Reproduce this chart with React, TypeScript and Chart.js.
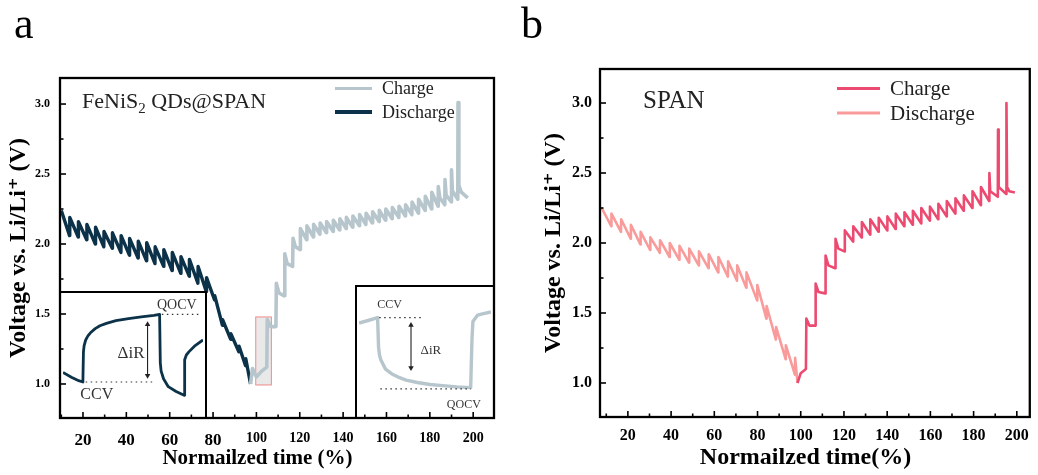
import React, { useEffect, useRef } from 'react';
import { Chart, registerables } from 'chart.js';

Chart.register(...registerables);

type P = [number, number];

const FONT = "'Liberation Serif', 'Times New Roman', 'DejaVu Serif', serif";

// ---------- axis ticks ----------
const xTicks = [20, 40, 60, 80, 100, 120, 140, 160, 180, 200];
const xMinorTicks = [10, 30, 50, 70, 90, 110, 130, 150, 170, 190];
const yTicks = [1.0, 1.5, 2.0, 2.5, 3.0];
const yMinorTicks = [1.25, 1.75, 2.25, 2.75];

// ---------- panel a : FeNiS2 QDs@SPAN ----------
const dischargeA: P[] = [
  [10.0, 2.24], [13.8, 2.06],
  [13.9, 2.19], [17.8, 2.05],
  [17.9, 2.16], [21.7, 2.03],
  [21.8, 2.14], [25.7, 2.0],
  [25.8, 2.12], [29.6, 1.98],
  [29.7, 2.09], [33.5, 1.97],
  [33.6, 2.08], [37.5, 1.94],
  [37.6, 2.06], [41.4, 1.92],
  [41.5, 2.04], [45.4, 1.9],
  [45.5, 2.02], [49.3, 1.88],
  [49.4, 2.01], [53.2, 1.86],
  [53.3, 1.98], [57.2, 1.84],
  [57.3, 1.96], [61.1, 1.81],
  [61.2, 1.94], [65.1, 1.79],
  [65.2, 1.91], [69.0, 1.77],
  [69.1, 1.89], [73.0, 1.72],
  [73.1, 1.84], [76.9, 1.66],
  [77.0, 1.76], [80.7, 1.6],
  [80.8, 1.63], [84.3, 1.42],
  [84.4, 1.46], [88.1, 1.32],
  [88.2, 1.36], [91.9, 1.23],
  [92.0, 1.27], [95.0, 1.13],
  [95.1, 1.18], [97.3, 1.0],
];

const chargeA: P[] = [
  [97.3, 1.0], [98.2, 1.11], [100.0, 1.05], [102.3, 1.09], [104.8, 1.12],
  [105.0, 1.46], [106.5, 1.41], [109.0, 1.41],
  [109.2, 1.72], [110.4, 1.65], [112.8, 1.63],
  [113.1, 1.93], [114.2, 1.86], [116.7, 1.84],
  [116.9, 2.04], [118.0, 1.98], [120.2, 1.96],
  [120.3, 2.11], [123.2, 2.03],
  [123.3, 2.13], [126.3, 2.05],
  [126.4, 2.14], [129.3, 2.07],
  [129.4, 2.15], [132.3, 2.08],
  [132.4, 2.16], [135.4, 2.09],
  [135.5, 2.17], [138.4, 2.1],
  [138.5, 2.18], [141.4, 2.11],
  [141.5, 2.19], [144.4, 2.12],
  [144.5, 2.2], [147.5, 2.13],
  [147.6, 2.21], [150.5, 2.14],
  [150.6, 2.22], [153.5, 2.15],
  [153.6, 2.23], [156.6, 2.16],
  [156.7, 2.24], [159.6, 2.17],
  [159.7, 2.25], [162.6, 2.18],
  [162.7, 2.26], [165.7, 2.19],
  [165.8, 2.27], [168.7, 2.2],
  [168.8, 2.28], [171.7, 2.21],
  [171.8, 2.3], [174.7, 2.22],
  [174.8, 2.32], [177.8, 2.24],
  [177.9, 2.34], [180.8, 2.25],
  [180.9, 2.37], [183.8, 2.27],
  [183.9, 2.41], [184.6, 2.33], [186.9, 2.28],
  [187.0, 2.46], [187.5, 2.35], [189.9, 2.3],
  [190.0, 2.53], [190.4, 2.38], [192.9, 2.32],
  [193.0, 3.01], [193.4, 2.42], [194.5, 2.37], [197.5, 2.33],
];

// ---------- panel b : SPAN ----------
const dischargeB: P[] = [
  [7.9, 2.25], [12.3, 2.12],
  [12.4, 2.21], [16.8, 2.08],
  [16.9, 2.17], [21.3, 2.03],
  [21.4, 2.13], [25.8, 1.99],
  [25.9, 2.08], [30.3, 1.95],
  [30.4, 2.04], [34.8, 1.93],
  [34.9, 2.02], [39.3, 1.9],
  [39.4, 2.0], [43.8, 1.88],
  [43.9, 1.98], [48.3, 1.86],
  [48.4, 1.96], [52.8, 1.84],
  [52.9, 1.94], [57.3, 1.82],
  [57.4, 1.92], [61.8, 1.79],
  [61.9, 1.9], [66.3, 1.76],
  [66.4, 1.87], [70.5, 1.73],
  [70.6, 1.84], [74.8, 1.68],
  [74.9, 1.79], [79.8, 1.59],
  [79.9, 1.7], [84.1, 1.46],
  [84.2, 1.55], [88.5, 1.31],
  [88.6, 1.4], [93.0, 1.17],
  [93.1, 1.27], [97.3, 1.06],
  [97.4, 1.18], [98.5, 1.0],
];

const chargeB: P[] = [
  [98.5, 1.0], [100.0, 1.07], [102.4, 1.1],
  [102.6, 1.46], [104.0, 1.41], [106.7, 1.41],
  [106.9, 1.71], [108.2, 1.65], [111.3, 1.64],
  [111.5, 1.91], [112.8, 1.84], [115.9, 1.82],
  [116.1, 2.03], [117.4, 1.96], [120.2, 1.94],
  [120.4, 2.09], [124.2, 2.01],
  [124.3, 2.12], [128.2, 2.04],
  [128.3, 2.15], [132.1, 2.06],
  [132.2, 2.17], [136.0, 2.08],
  [136.1, 2.18], [140.0, 2.09],
  [140.1, 2.19], [143.9, 2.1],
  [144.0, 2.21], [147.9, 2.12],
  [148.0, 2.22], [151.8, 2.13],
  [151.9, 2.23], [155.7, 2.14],
  [155.8, 2.25], [159.7, 2.16],
  [159.8, 2.26], [163.6, 2.17],
  [163.7, 2.28], [167.5, 2.19],
  [167.6, 2.3], [171.5, 2.21],
  [171.6, 2.32], [175.4, 2.23],
  [175.5, 2.34], [179.4, 2.25],
  [179.5, 2.37], [183.3, 2.27],
  [183.4, 2.4], [187.2, 2.3],
  [187.3, 2.5], [187.7, 2.37], [191.2, 2.33],
  [191.3, 2.81], [191.6, 2.4], [195.1, 2.35],
  [195.2, 3.0], [195.5, 2.4], [196.5, 2.37], [199.1, 2.36],
];

// ---------- insets (local 0..100 units) ----------
const insetLeftCurve: P[] = [
  [0, 35.5], [6.0, 31.5], [11.2, 28.6], [14.2, 27.5],
  [14.6, 52.6], [15.1, 57.9], [16.2, 62.5], [17.8, 65.9], [19.6, 68.5], [23.0, 72.0],
  [26.4, 74.4], [31.0, 76.4], [37.8, 78.6], [46.8, 80.4], [55.9, 81.7], [65.0, 83.1], [69.0, 83.9],
  [69.5, 43.4], [70.1, 36.5], [71.8, 30.2], [75.2, 23.6], [80.8, 19.6], [86.5, 16.4],
  [86.9, 46.0], [88.1, 50.0], [89.9, 52.6], [94.4, 57.9], [100, 62.5],
];
const insetLeftQocvLine: P[] = [[70.6, 83.9], [96.7, 83.9]];
const insetLeftCcvLine: P[] = [[16.2, 27.5], [65.0, 27.5]];
const insetLeftArrow: P[] = [[60.4, 75.5], [60.4, 32.8]];

const insetRightCurve: P[] = [
  [0, 73.0], [6.9, 75.0], [14.1, 77.3],
  [14.8, 54.0], [15.5, 47.7], [16.5, 43.9], [20.1, 36.4], [24.9, 32.6], [29.7, 30.1],
  [35.7, 27.7], [44.2, 25.8], [53.8, 24.2], [63.4, 23.3], [74.0, 22.3], [84.6, 21.7],
  [85.6, 60.4], [86.3, 74.2], [89.9, 79.3], [93.5, 80.3], [100, 81.8],
];
const insetRightCcvLine: P[] = [[15.3, 77.3], [47.8, 77.3]];
const insetRightQocvLine: P[] = [[16.2, 20.7], [84.8, 20.7]];
const insetRightArrow: P[] = [[39.4, 71.3], [39.4, 37.5]];

// ---------- colours ----------
const A_CHARGE = '#b7c6cd';
const A_DISCHARGE = '#0c3249';
const B_CHARGE = '#ec4a70';
const B_DISCHARGE = '#f99b9b';

type Series = { data: P[]; color: string; width: number };

type MainCfg = {
  series: Series[];
  xMin: number; xMax: number; yMin: number; yMax: number;
  padTop: number; padRight: number; yAxisWidth: number; xAxisHeight: number;
  yTickSize: number; xTickSize: (v: number) => number; yTickPad: number; xTickPad: number;
  yTitleSize: number; yTitlePad: number;
  xTitle: string; xTitleSize: number; xTitleX: number; xTitleY: number;
  under?: (chart: any) => void;
  over?: (chart: any) => void;
};

function framePlugin() {
  return {
    id: 'frameTicks',
    afterDraw(chart: any) {
      const { ctx, chartArea } = chart;
      const { left, right, top, bottom } = chartArea;
      const x = chart.scales.x;
      const y = chart.scales.y;
      ctx.save();
      ctx.strokeStyle = '#000';
      ctx.lineWidth = 1.6;
      const tick = (x0: number, y0: number, x1: number, y1: number) => {
        ctx.beginPath();
        ctx.moveTo(x0, y0);
        ctx.lineTo(x1, y1);
        ctx.stroke();
      };
      xTicks.forEach((v) => { const p = x.getPixelForValue(v); tick(p, bottom, p, bottom - 6); });
      xMinorTicks.forEach((v) => { const p = x.getPixelForValue(v); tick(p, bottom, p, bottom - 3.5); });
      yTicks.forEach((v) => { const p = y.getPixelForValue(v); tick(left, p, left + 6, p); });
      yMinorTicks.forEach((v) => { const p = y.getPixelForValue(v); tick(left, p, left + 3.5, p); });
      ctx.lineWidth = 2.3;
      ctx.strokeRect(left, top, right - left, bottom - top);
      ctx.restore();
    },
  };
}

function mainConfig(cfg: MainCfg): any {
  return {
    type: 'line',
    data: {
      datasets: cfg.series.map((s) => ({
        data: s.data,
        borderColor: s.color,
        borderWidth: s.width,
        pointRadius: 0,
        tension: 0,
        borderJoinStyle: 'round',
        fill: false,
      })),
    },
    options: {
      responsive: false,
      animation: false,
      events: [],
      layout: { padding: { left: 0, top: cfg.padTop, right: cfg.padRight, bottom: 0 } },
      plugins: { legend: { display: false }, tooltip: { enabled: false } },
      scales: {
        x: {
          type: 'linear',
          min: cfg.xMin,
          max: cfg.xMax,
          grid: { display: false, drawTicks: false },
          border: { display: false },
          afterFit: (s: any) => { s.height = cfg.xAxisHeight; },
          afterBuildTicks: (s: any) => { s.ticks = xTicks.map((v) => ({ value: v })); },
          ticks: {
            autoSkip: false,
            maxRotation: 0,
            padding: cfg.xTickPad,
            color: '#000',
            callback: (v: any) => String(v),
            font: (ctx: any) => ({
              family: FONT,
              weight: 'bold',
              size: cfg.xTickSize(ctx.tick ? ctx.tick.value : 0),
            }),
          },
          title: { display: false },
        },
        y: {
          type: 'linear',
          min: cfg.yMin,
          max: cfg.yMax,
          grid: { display: false, drawTicks: false },
          border: { display: false },
          afterFit: (s: any) => { s.width = cfg.yAxisWidth; },
          afterBuildTicks: (s: any) => { s.ticks = yTicks.map((v) => ({ value: v })); },
          ticks: {
            autoSkip: false,
            padding: cfg.yTickPad,
            color: '#000',
            callback: (v: any) => Number(v).toFixed(1),
            font: { family: FONT, weight: 'bold', size: cfg.yTickSize },
          },
          title: {
            display: true,
            text: 'Voltage vs. Li/Li\u207A (V)',
            color: '#000',
            font: { family: FONT, weight: 'bold', size: cfg.yTitleSize },
            padding: { top: cfg.yTitlePad, bottom: 0 },
          },
        },
      },
    },
    plugins: [
      {
        id: 'under',
        beforeDatasetsDraw(chart: any) { if (cfg.under) cfg.under(chart); },
      },
      framePlugin(),
      {
        id: 'over',
        afterDraw(chart: any) {
          const { ctx } = chart;
          ctx.save();
          ctx.fillStyle = '#000';
          ctx.font = `bold ${cfg.xTitleSize}px ${FONT}`;
          ctx.textAlign = 'center';
          ctx.textBaseline = 'middle';
          ctx.fillText(cfg.xTitle, cfg.xTitleX, cfg.xTitleY);
          ctx.restore();
          if (cfg.over) cfg.over(chart);
        },
      },
    ],
  };
}

function drawLegend(ctx: any, items: { label: string; color: string; width: number; y: number }[], x0: number, x1: number, tx: number, size: number) {
  ctx.save();
  items.forEach((it) => {
    ctx.strokeStyle = it.color;
    ctx.lineWidth = it.width;
    ctx.lineCap = 'butt';
    ctx.beginPath();
    ctx.moveTo(x0, it.y);
    ctx.lineTo(x1, it.y);
    ctx.stroke();
    ctx.fillStyle = '#222';
    ctx.font = `${size}px ${FONT}`;
    ctx.textBaseline = 'middle';
    ctx.textAlign = 'left';
    ctx.fillText(it.label, tx, it.y + 1);
  });
  ctx.restore();
}

const zoomBoxA = { x0: 99.7, x1: 106.9, y0: 0.993, y1: 1.479 };

const cfgA: MainCfg = {
  series: [
    { data: chargeA, color: A_CHARGE, width: 3.6 },
    { data: dischargeA, color: A_DISCHARGE, width: 3.4 },
  ],
  xMin: 9.4, xMax: 209.6, yMin: 0.757, yMax: 3.186,
  padTop: 78, padRight: 25, yAxisWidth: 60, xAxisHeight: 57,
  yTickSize: 12, xTickSize: (v) => (v >= 100 ? 14 : 17), yTickPad: 10, xTickPad: 12,
  yTitleSize: 24, yTitlePad: 4,
  xTitle: 'Normailzed time (%)', xTitleSize: 21, xTitleX: 257.5, xTitleY: 459,
  under: (chart) => {
    const { ctx, scales: { x, y } } = chart;
    const l = x.getPixelForValue(zoomBoxA.x0);
    const r = x.getPixelForValue(zoomBoxA.x1);
    const t = y.getPixelForValue(zoomBoxA.y1);
    const b = y.getPixelForValue(zoomBoxA.y0);
    ctx.save();
    ctx.fillStyle = 'rgba(215,215,215,0.55)';
    ctx.fillRect(l, t, r - l, b - t);
    ctx.strokeStyle = '#f08a8a';
    ctx.lineWidth = 1;
    ctx.strokeRect(l, t, r - l, b - t);
    ctx.restore();
  },
  over: (chart) => {
    const { ctx } = chart;
    drawLegend(ctx, [
      { label: 'Charge', color: A_CHARGE, width: 3.2, y: 88.5 },
      { label: 'Discharge', color: A_DISCHARGE, width: 3.8, y: 112 },
    ], 335, 372, 382, 18);
    ctx.save();
    ctx.fillStyle = '#222';
    ctx.textBaseline = 'alphabetic';
    ctx.textAlign = 'left';
    let px = 82;
    const base = 108;
    ctx.font = `22px ${FONT}`;
    ctx.fillText('FeNiS', px, base);
    px += ctx.measureText('FeNiS').width;
    ctx.font = `15px ${FONT}`;
    ctx.fillText('2', px, base + 5);
    px += ctx.measureText('2').width;
    ctx.font = `22px ${FONT}`;
    ctx.fillText(' QDs@SPAN', px, base);
    ctx.font = `44px ${FONT}`;
    ctx.fillStyle = '#000';
    ctx.fillText('a', 14, 38);
    ctx.restore();
  },
};

const cfgB: MainCfg = {
  series: [
    { data: chargeB, color: B_CHARGE, width: 2.6 },
    { data: dischargeB, color: B_DISCHARGE, width: 2.6 },
  ],
  xMin: 7.1, xMax: 206.0, yMin: 0.757, yMax: 3.243,
  padTop: 69, padRight: 6, yAxisWidth: 81, xAxisHeight: 58,
  yTickSize: 16, xTickSize: () => 16, yTickPad: 8, xTickPad: 9,
  yTitleSize: 24, yTitlePad: 20,
  xTitle: 'Normailzed time(%)', xTitleSize: 24, xTitleX: 286.5, xTitleY: 458,
  over: (chart) => {
    const { ctx } = chart;
    drawLegend(ctx, [
      { label: 'Charge', color: B_CHARGE, width: 3, y: 88.5 },
      { label: 'Discharge', color: B_DISCHARGE, width: 3, y: 113 },
    ], 318, 361, 371, 21);
    ctx.save();
    ctx.fillStyle = '#222';
    ctx.textBaseline = 'alphabetic';
    ctx.textAlign = 'left';
    ctx.font = `25px ${FONT}`;
    ctx.fillText('SPAN', 124, 108);
    ctx.font = `44px ${FONT}`;
    ctx.fillStyle = '#000';
    ctx.fillText('b', 2, 38);
    ctx.restore();
  },
};

type InsetText = { text: string; x: number; y: number; size: number };
type InsetCfg = {
  curve: P[]; color: string; width: number;
  dotted: P[][]; arrow: P[]; texts: InsetText[];
};

const insetLeft: InsetCfg = {
  curve: insetLeftCurve, color: A_DISCHARGE, width: 2.8,
  dotted: [insetLeftQocvLine, insetLeftCcvLine],
  arrow: insetLeftArrow,
  texts: [
    { text: 'QOCV', x: 81.3, y: 91.3, size: 14 },
    { text: 'CCV', x: 24.1, y: 16.7, size: 16 },
    { text: '\u0394iR', x: 48.6, y: 51.6, size: 17 },
  ],
};

const insetRight: InsetCfg = {
  curve: insetRightCurve, color: A_CHARGE, width: 3.4,
  dotted: [insetRightCcvLine, insetRightQocvLine],
  arrow: insetRightArrow,
  texts: [
    { text: 'CCV', x: 23.1, y: 87.1, size: 12 },
    { text: '\u0394iR', x: 54.5, y: 50.8, size: 13 },
    { text: 'QOCV', x: 79.4, y: 8.3, size: 12 },
  ],
};

function insetConfig(cfg: InsetCfg): any {
  return {
    type: 'line',
    data: {
      datasets: [
        {
          data: cfg.arrow,
          borderColor: '#222',
          backgroundColor: '#222',
          borderWidth: 1.1,
          pointStyle: 'triangle',
          pointRadius: 3.2,
          pointBorderWidth: 0,
          pointRotation: [0, 180],
          tension: 0,
        },
        ...cfg.dotted.map((d) => ({
          data: d,
          borderColor: '#333',
          borderWidth: 1.2,
          borderDash: [1.5, 3.5],
          pointRadius: 0,
          tension: 0,
        })),
        {
          data: cfg.curve,
          borderColor: cfg.color,
          borderWidth: cfg.width,
          pointRadius: 0,
          tension: 0,
          borderJoinStyle: 'round',
        },
      ],
    },
    options: {
      responsive: false,
      animation: false,
      events: [],
      layout: { padding: 0 },
      plugins: { legend: { display: false }, tooltip: { enabled: false } },
      scales: {
        x: { type: 'linear', min: 0, max: 100, display: false },
        y: { type: 'linear', min: 0, max: 100, display: false },
      },
    },
    plugins: [
      {
        id: 'insetDecor',
        afterDraw(chart: any) {
          const { ctx, width, height, scales: { x, y } } = chart;
          ctx.save();
          ctx.fillStyle = '#333';
          ctx.textAlign = 'center';
          ctx.textBaseline = 'middle';
          cfg.texts.forEach((t) => {
            ctx.font = `${t.size}px ${FONT}`;
            ctx.fillText(t.text, x.getPixelForValue(t.x), y.getPixelForValue(t.y));
          });
          ctx.strokeStyle = '#000';
          ctx.lineWidth = 2;
          ctx.strokeRect(1, 1, width - 2, height - 2);
          ctx.restore();
        },
      },
    ],
  };
}

function ChartCanvas(props: { config: () => any; left: number; top: number; width: number; height: number }) {
  const ref = useRef<HTMLCanvasElement>(null);
  useEffect(() => {
    const chart = new Chart(ref.current as HTMLCanvasElement, props.config());
    return () => chart.destroy();
  }, []);
  return (
    <canvas
      ref={ref}
      width={props.width}
      height={props.height}
      style={{ position: 'absolute', left: props.left, top: props.top, width: props.width, height: props.height }}
    />
  );
}

export default function App() {
  return (
    <div style={{ position: 'absolute', left: 0, top: 0, width: 1038, height: 475, background: '#fff', overflow: 'hidden' }}>
      <ChartCanvas config={() => mainConfig(cfgA)} left={0} top={0} width={519} height={475} />
      <ChartCanvas config={() => mainConfig(cfgB)} left={519} top={0} width={519} height={475} />
      <ChartCanvas config={() => insetConfig(insetLeft)} left={59} top={291} width={148} height={128} />
      <ChartCanvas config={() => insetConfig(insetRight)} left={355} top={285} width={140} height={134} />
    </div>
  );
}
